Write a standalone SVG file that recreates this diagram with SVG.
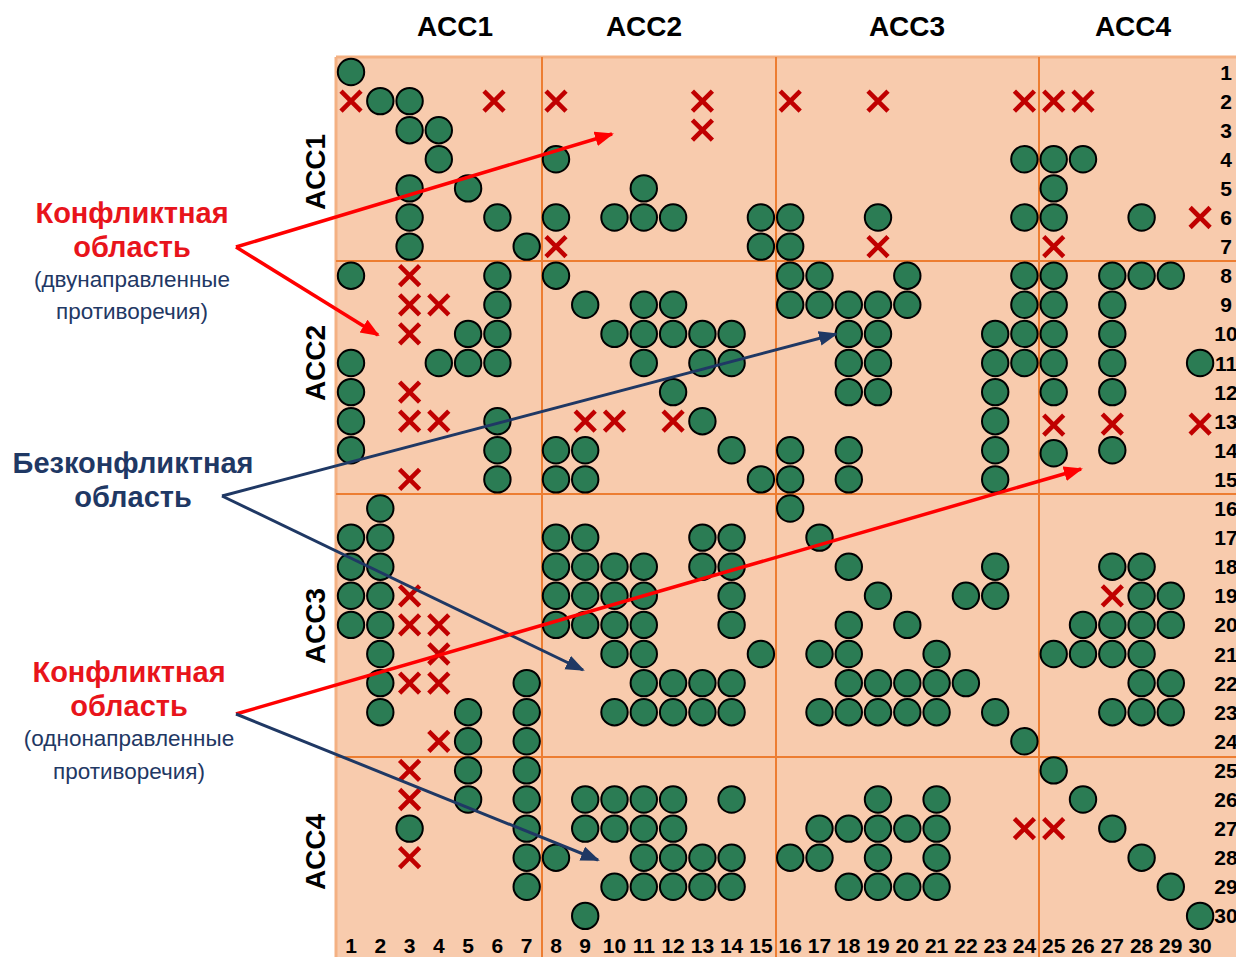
<svg xmlns="http://www.w3.org/2000/svg" xmlns:xlink="http://www.w3.org/1999/xlink" width="1236" height="957" viewBox="0 0 1236 957">
  <style>
    .o{fill:#2B7C54;stroke:#000;stroke-width:2}
    .x{fill:none;stroke:#C00000;stroke-width:4.6}
    .grid{stroke:#ED7D31;stroke-width:2}
    .hdr{font-family:"Liberation Sans",Arial,sans-serif;font-weight:bold;font-size:28px;fill:#000;text-anchor:middle}
    .num{font-family:"Liberation Sans",Arial,sans-serif;font-weight:bold;font-size:21px;fill:#000;text-anchor:middle}
    .big{font-family:"Liberation Sans",Arial,sans-serif;font-weight:bold;font-size:29px;text-anchor:middle}
    .small{font-family:"Liberation Sans",Arial,sans-serif;font-size:22.5px;fill:#1F3864;text-anchor:middle}
    .red{fill:#E8141B}
    .navy{fill:#1F3864}
    .cr{fill:none;stroke:#FF0000;stroke-width:3.5}
    .cn{fill:none;stroke:#1F3864;stroke-width:3}
  </style>
  <defs>
    <circle id="o" class="o" r="13.2"/>
    <path id="x" class="x" d="M-10,-10L10,10M10,-10L-10,10"/>
    <marker id="ah-red" markerUnits="userSpaceOnUse" markerWidth="20" markerHeight="16" refX="17" refY="7.5" orient="auto">
      <path d="M0,0L19,7.5L0,15z" fill="#FF0000"/>
    </marker>
    <marker id="ah-navy" markerUnits="userSpaceOnUse" markerWidth="20" markerHeight="16" refX="17" refY="7.5" orient="auto">
      <path d="M0,0L19,7.5L0,15z" fill="#1F3864"/>
    </marker>
  </defs>

  <rect width="1236" height="957" fill="#fff"/>

  <!-- matrix background and block separators -->
  <g id="matrix">
    <rect x="336" y="57" width="902" height="902" fill="#F8CBAD"/>
    <line x1="336" y1="57" x2="1236" y2="57" stroke="#F4B183" stroke-width="3"/>
    <line x1="336" y1="57" x2="336" y2="957" stroke="#F4B183" stroke-width="3"/>
    <line class="grid" x1="542" y1="57" x2="542" y2="957"/>
    <line class="grid" x1="776" y1="57" x2="776" y2="957"/>
    <line class="grid" x1="1039" y1="57" x2="1039" y2="957"/>
    <line class="grid" x1="336" y1="261" x2="1236" y2="261"/>
    <line class="grid" x1="336" y1="494" x2="1236" y2="494"/>
    <line class="grid" x1="336" y1="757" x2="1236" y2="757"/>
  </g>

  <!-- group headers -->
  <g id="headers">
    <text class="hdr" x="455" y="36">ACC1</text>
    <text class="hdr" x="644" y="36">ACC2</text>
    <text class="hdr" x="907" y="36">ACC3</text>
    <text class="hdr" x="1133" y="36">ACC4</text>
    <text class="hdr" transform="translate(325,172) rotate(-90)">ACC1</text>
    <text class="hdr" transform="translate(325,363) rotate(-90)">ACC2</text>
    <text class="hdr" transform="translate(325,626) rotate(-90)">ACC3</text>
    <text class="hdr" transform="translate(325,852) rotate(-90)">ACC4</text>
  </g>

  <!-- column indices -->
  <g id="col-index" class="num">
    <text x="351" y="953">1</text><text x="380.3" y="953">2</text><text x="409.6" y="953">3</text>
    <text x="438.8" y="953">4</text><text x="468.1" y="953">5</text><text x="497.4" y="953">6</text>
    <text x="526.7" y="953">7</text><text x="556" y="953">8</text><text x="585.2" y="953">9</text>
    <text x="614.5" y="953">10</text><text x="643.8" y="953">11</text><text x="673.1" y="953">12</text>
    <text x="702.4" y="953">13</text><text x="731.6" y="953">14</text><text x="760.9" y="953">15</text>
    <text x="790.2" y="953">16</text><text x="819.5" y="953">17</text><text x="848.8" y="953">18</text>
    <text x="878" y="953">19</text><text x="907.3" y="953">20</text><text x="936.6" y="953">21</text>
    <text x="965.9" y="953">22</text><text x="995.2" y="953">23</text><text x="1024.4" y="953">24</text>
    <text x="1053.7" y="953">25</text><text x="1083" y="953">26</text><text x="1112.3" y="953">27</text>
    <text x="1141.6" y="953">28</text><text x="1170.8" y="953">29</text><text x="1200.1" y="953">30</text>
  </g>

  <!-- row indices -->
  <g id="row-index" class="num">
    <text x="1226" y="79.5">1</text><text x="1226" y="108.6">2</text><text x="1226" y="137.7">3</text>
    <text x="1226" y="166.8">4</text><text x="1226" y="195.9">5</text><text x="1226" y="225">6</text>
    <text x="1226" y="254.1">7</text><text x="1226" y="283.2">8</text><text x="1226" y="312.3">9</text>
    <text x="1226" y="341.4">10</text><text x="1226" y="370.5">11</text><text x="1226" y="399.6">12</text>
    <text x="1226" y="428.7">13</text><text x="1226" y="457.8">14</text><text x="1226" y="486.9">15</text>
    <text x="1226" y="516">16</text><text x="1226" y="545.1">17</text><text x="1226" y="574.2">18</text>
    <text x="1226" y="603.3">19</text><text x="1226" y="632.4">20</text><text x="1226" y="661.5">21</text>
    <text x="1226" y="690.6">22</text><text x="1226" y="719.7">23</text><text x="1226" y="748.8">24</text>
    <text x="1226" y="777.9">25</text><text x="1226" y="807">26</text><text x="1226" y="836.1">27</text>
    <text x="1226" y="865.2">28</text><text x="1226" y="894.3">29</text><text x="1226" y="923.4">30</text>
  </g>

  <!-- links (filled circles) -->
  <g id="links">
    <g transform="translate(0,72)"><use href="#o" x="351"/></g>
    <g transform="translate(0,101.1)"><use href="#o" x="380.3"/><use href="#o" x="409.6"/></g>
    <g transform="translate(0,130.2)"><use href="#o" x="409.6"/><use href="#o" x="438.8"/></g>
    <g transform="translate(0,159.3)"><use href="#o" x="438.8"/><use href="#o" x="556"/><use href="#o" x="1024.4"/><use href="#o" x="1053.7"/><use href="#o" x="1083"/></g>
    <g transform="translate(0,188.4)"><use href="#o" x="409.6"/><use href="#o" x="468.1"/><use href="#o" x="643.8"/><use href="#o" x="1053.7"/></g>
    <g transform="translate(0,217.5)"><use href="#o" x="409.6"/><use href="#o" x="497.4"/><use href="#o" x="556"/><use href="#o" x="614.5"/><use href="#o" x="643.8"/><use href="#o" x="673.1"/><use href="#o" x="760.9"/><use href="#o" x="790.2"/><use href="#o" x="878"/><use href="#o" x="1024.4"/><use href="#o" x="1053.7"/><use href="#o" x="1141.6"/></g>
    <g transform="translate(0,246.6)"><use href="#o" x="409.6"/><use href="#o" x="526.7"/><use href="#o" x="760.9"/><use href="#o" x="790.2"/></g>
    <g transform="translate(0,275.7)"><use href="#o" x="351"/><use href="#o" x="497.4"/><use href="#o" x="556"/><use href="#o" x="790.2"/><use href="#o" x="819.5"/><use href="#o" x="907.3"/><use href="#o" x="1024.4"/><use href="#o" x="1053.7"/><use href="#o" x="1112.3"/><use href="#o" x="1141.6"/><use href="#o" x="1170.8"/></g>
    <g transform="translate(0,304.8)"><use href="#o" x="497.4"/><use href="#o" x="585.2"/><use href="#o" x="643.8"/><use href="#o" x="673.1"/><use href="#o" x="790.2"/><use href="#o" x="819.5"/><use href="#o" x="848.8"/><use href="#o" x="878"/><use href="#o" x="907.3"/><use href="#o" x="1024.4"/><use href="#o" x="1053.7"/><use href="#o" x="1112.3"/></g>
    <g transform="translate(0,333.9)"><use href="#o" x="468.1"/><use href="#o" x="497.4"/><use href="#o" x="614.5"/><use href="#o" x="643.8"/><use href="#o" x="673.1"/><use href="#o" x="702.4"/><use href="#o" x="731.6"/><use href="#o" x="848.8"/><use href="#o" x="878"/><use href="#o" x="995.2"/><use href="#o" x="1024.4"/><use href="#o" x="1053.7"/><use href="#o" x="1112.3"/></g>
    <g transform="translate(0,363)"><use href="#o" x="351"/><use href="#o" x="438.8"/><use href="#o" x="468.1"/><use href="#o" x="497.4"/><use href="#o" x="643.8"/><use href="#o" x="702.4"/><use href="#o" x="731.6"/><use href="#o" x="848.8"/><use href="#o" x="878"/><use href="#o" x="995.2"/><use href="#o" x="1024.4"/><use href="#o" x="1053.7"/><use href="#o" x="1112.3"/><use href="#o" x="1200.1"/></g>
    <g transform="translate(0,392.1)"><use href="#o" x="351"/><use href="#o" x="673.1"/><use href="#o" x="848.8"/><use href="#o" x="878"/><use href="#o" x="995.2"/><use href="#o" x="1053.7"/><use href="#o" x="1112.3"/></g>
    <g transform="translate(0,421.2)"><use href="#o" x="351"/><use href="#o" x="497.4"/><use href="#o" x="702.4"/><use href="#o" x="995.2"/></g>
    <g transform="translate(0,450.3)"><use href="#o" x="351"/><use href="#o" x="497.4"/><use href="#o" x="556"/><use href="#o" x="585.2"/><use href="#o" x="731.6"/><use href="#o" x="790.2"/><use href="#o" x="848.8"/><use href="#o" x="995.2"/><use href="#o" x="1053.7" y="3"/><use href="#o" x="1112.3"/></g>
    <g transform="translate(0,479.4)"><use href="#o" x="497.4"/><use href="#o" x="556"/><use href="#o" x="585.2"/><use href="#o" x="760.9"/><use href="#o" x="790.2"/><use href="#o" x="848.8"/><use href="#o" x="995.2"/></g>
    <g transform="translate(0,508.5)"><use href="#o" x="380.3"/><use href="#o" x="790.2"/></g>
    <g transform="translate(0,537.6)"><use href="#o" x="351"/><use href="#o" x="380.3"/><use href="#o" x="556"/><use href="#o" x="585.2"/><use href="#o" x="702.4"/><use href="#o" x="731.6"/><use href="#o" x="819.5"/></g>
    <g transform="translate(0,566.7)"><use href="#o" x="351"/><use href="#o" x="380.3"/><use href="#o" x="556"/><use href="#o" x="585.2"/><use href="#o" x="614.5"/><use href="#o" x="643.8"/><use href="#o" x="702.4"/><use href="#o" x="731.6"/><use href="#o" x="848.8"/><use href="#o" x="995.2"/><use href="#o" x="1112.3"/><use href="#o" x="1141.6"/></g>
    <g transform="translate(0,595.8)"><use href="#o" x="351"/><use href="#o" x="380.3"/><use href="#o" x="556"/><use href="#o" x="585.2"/><use href="#o" x="614.5"/><use href="#o" x="643.8"/><use href="#o" x="731.6"/><use href="#o" x="878"/><use href="#o" x="965.9"/><use href="#o" x="995.2"/><use href="#o" x="1141.6"/><use href="#o" x="1170.8"/></g>
    <g transform="translate(0,624.9)"><use href="#o" x="351"/><use href="#o" x="380.3"/><use href="#o" x="556"/><use href="#o" x="585.2"/><use href="#o" x="614.5"/><use href="#o" x="643.8"/><use href="#o" x="731.6"/><use href="#o" x="848.8"/><use href="#o" x="907.3"/><use href="#o" x="1083"/><use href="#o" x="1112.3"/><use href="#o" x="1141.6"/><use href="#o" x="1170.8"/></g>
    <g transform="translate(0,654)"><use href="#o" x="380.3"/><use href="#o" x="614.5"/><use href="#o" x="643.8"/><use href="#o" x="760.9"/><use href="#o" x="819.5"/><use href="#o" x="848.8"/><use href="#o" x="936.6"/><use href="#o" x="1053.7"/><use href="#o" x="1083"/><use href="#o" x="1112.3"/><use href="#o" x="1141.6"/></g>
    <g transform="translate(0,683.1)"><use href="#o" x="380.3"/><use href="#o" x="526.7"/><use href="#o" x="643.8"/><use href="#o" x="673.1"/><use href="#o" x="702.4"/><use href="#o" x="731.6"/><use href="#o" x="848.8"/><use href="#o" x="878"/><use href="#o" x="907.3"/><use href="#o" x="936.6"/><use href="#o" x="965.9"/><use href="#o" x="1141.6"/><use href="#o" x="1170.8"/></g>
    <g transform="translate(0,712.2)"><use href="#o" x="380.3"/><use href="#o" x="468.1"/><use href="#o" x="526.7"/><use href="#o" x="614.5"/><use href="#o" x="643.8"/><use href="#o" x="673.1"/><use href="#o" x="702.4"/><use href="#o" x="731.6"/><use href="#o" x="819.5"/><use href="#o" x="848.8"/><use href="#o" x="878"/><use href="#o" x="907.3"/><use href="#o" x="936.6"/><use href="#o" x="995.2"/><use href="#o" x="1112.3"/><use href="#o" x="1141.6"/><use href="#o" x="1170.8"/></g>
    <g transform="translate(0,741.3)"><use href="#o" x="468.1"/><use href="#o" x="526.7"/><use href="#o" x="1024.4"/></g>
    <g transform="translate(0,770.4)"><use href="#o" x="468.1"/><use href="#o" x="526.7"/><use href="#o" x="1053.7"/></g>
    <g transform="translate(0,799.5)"><use href="#o" x="468.1"/><use href="#o" x="526.7"/><use href="#o" x="585.2"/><use href="#o" x="614.5"/><use href="#o" x="643.8"/><use href="#o" x="673.1"/><use href="#o" x="731.6"/><use href="#o" x="878"/><use href="#o" x="936.6"/><use href="#o" x="1083"/></g>
    <g transform="translate(0,828.6)"><use href="#o" x="409.6"/><use href="#o" x="526.7"/><use href="#o" x="585.2"/><use href="#o" x="614.5"/><use href="#o" x="643.8"/><use href="#o" x="673.1"/><use href="#o" x="819.5"/><use href="#o" x="848.8"/><use href="#o" x="878"/><use href="#o" x="907.3"/><use href="#o" x="936.6"/><use href="#o" x="1112.3"/></g>
    <g transform="translate(0,857.7)"><use href="#o" x="526.7"/><use href="#o" x="556"/><use href="#o" x="643.8"/><use href="#o" x="673.1"/><use href="#o" x="702.4"/><use href="#o" x="731.6"/><use href="#o" x="790.2"/><use href="#o" x="819.5"/><use href="#o" x="878"/><use href="#o" x="936.6"/><use href="#o" x="1141.6"/></g>
    <g transform="translate(0,886.8)"><use href="#o" x="526.7"/><use href="#o" x="614.5"/><use href="#o" x="643.8"/><use href="#o" x="673.1"/><use href="#o" x="702.4"/><use href="#o" x="731.6"/><use href="#o" x="848.8"/><use href="#o" x="878"/><use href="#o" x="907.3"/><use href="#o" x="936.6"/><use href="#o" x="1170.8"/></g>
    <g transform="translate(0,915.9)"><use href="#o" x="585.2"/><use href="#o" x="1200.1"/></g>
  </g>

  <!-- contradictions (crosses) -->
  <g id="contradictions">
    <g transform="translate(0,101.1)"><use href="#x" x="351"/><use href="#x" x="494"/><use href="#x" x="556"/><use href="#x" x="702.4"/><use href="#x" x="790.2"/><use href="#x" x="878"/><use href="#x" x="1024.4"/><use href="#x" x="1053.7"/><use href="#x" x="1083"/></g>
    <g transform="translate(0,130.2)"><use href="#x" x="702.4"/></g>
    <g transform="translate(0,217.5)"><use href="#x" x="1200.1"/></g>
    <g transform="translate(0,246.6)"><use href="#x" x="556"/><use href="#x" x="878"/><use href="#x" x="1053.7"/></g>
    <g transform="translate(0,275.7)"><use href="#x" x="409.6"/></g>
    <g transform="translate(0,304.8)"><use href="#x" x="409.6"/><use href="#x" x="438.8"/></g>
    <g transform="translate(0,333.9)"><use href="#x" x="409.6"/></g>
    <g transform="translate(0,392.1)"><use href="#x" x="409.6"/></g>
    <g transform="translate(0,421.2)"><use href="#x" x="409.6"/><use href="#x" x="438.8"/><use href="#x" x="585.2"/><use href="#x" x="614.5"/><use href="#x" x="673.1"/><use href="#x" x="1053.7" y="4"/><use href="#x" x="1112.3" y="3"/><use href="#x" x="1200.1" y="3"/></g>
    <g transform="translate(0,479.4)"><use href="#x" x="409.6"/></g>
    <g transform="translate(0,595.8)"><use href="#x" x="409.6"/><use href="#x" x="1112.3"/></g>
    <g transform="translate(0,624.9)"><use href="#x" x="409.6"/><use href="#x" x="438.8"/></g>
    <g transform="translate(0,654)"><use href="#x" x="438.8"/></g>
    <g transform="translate(0,683.1)"><use href="#x" x="409.6"/><use href="#x" x="438.8"/></g>
    <g transform="translate(0,741.3)"><use href="#x" x="438.8"/></g>
    <g transform="translate(0,770.4)"><use href="#x" x="409.6"/></g>
    <g transform="translate(0,799.5)"><use href="#x" x="409.6"/></g>
    <g transform="translate(0,828.6)"><use href="#x" x="1024.4"/><use href="#x" x="1053.7"/></g>
    <g transform="translate(0,857.7)"><use href="#x" x="409.6"/></g>
  </g>

  <!-- annotation labels -->
  <g id="label-conflict-bi">
    <text class="big red" x="132" y="223">Конфликтная</text>
    <text class="big red" x="132" y="257">область</text>
    <text class="small" x="132" y="287">(двунаправленные</text>
    <text class="small" x="132" y="319">противоречия)</text>
  </g>
  <g id="label-free">
    <text class="big navy" x="133" y="473">Безконфликтная</text>
    <text class="big navy" x="133" y="507">область</text>
  </g>
  <g id="label-conflict-uni">
    <text class="big red" x="129" y="682">Конфликтная</text>
    <text class="big red" x="129" y="716">область</text>
    <text class="small" x="129" y="746">(однонаправленные</text>
    <text class="small" x="129" y="779">противоречия)</text>
  </g>

  <!-- pointer arrows -->
  <g id="connectors">
    <path class="cr" d="M236,247L612,134" marker-end="url(#ah-red)"/>
    <path class="cr" d="M236,247L378,335" marker-end="url(#ah-red)"/>
    <path class="cn" d="M222,496L836,334" marker-end="url(#ah-navy)"/>
    <path class="cn" d="M222,496L583,670" marker-end="url(#ah-navy)"/>
    <path class="cr" d="M236,714L1081,469" marker-end="url(#ah-red)"/>
    <path class="cn" d="M236,714L598,860" marker-end="url(#ah-navy)"/>
  </g>
</svg>
